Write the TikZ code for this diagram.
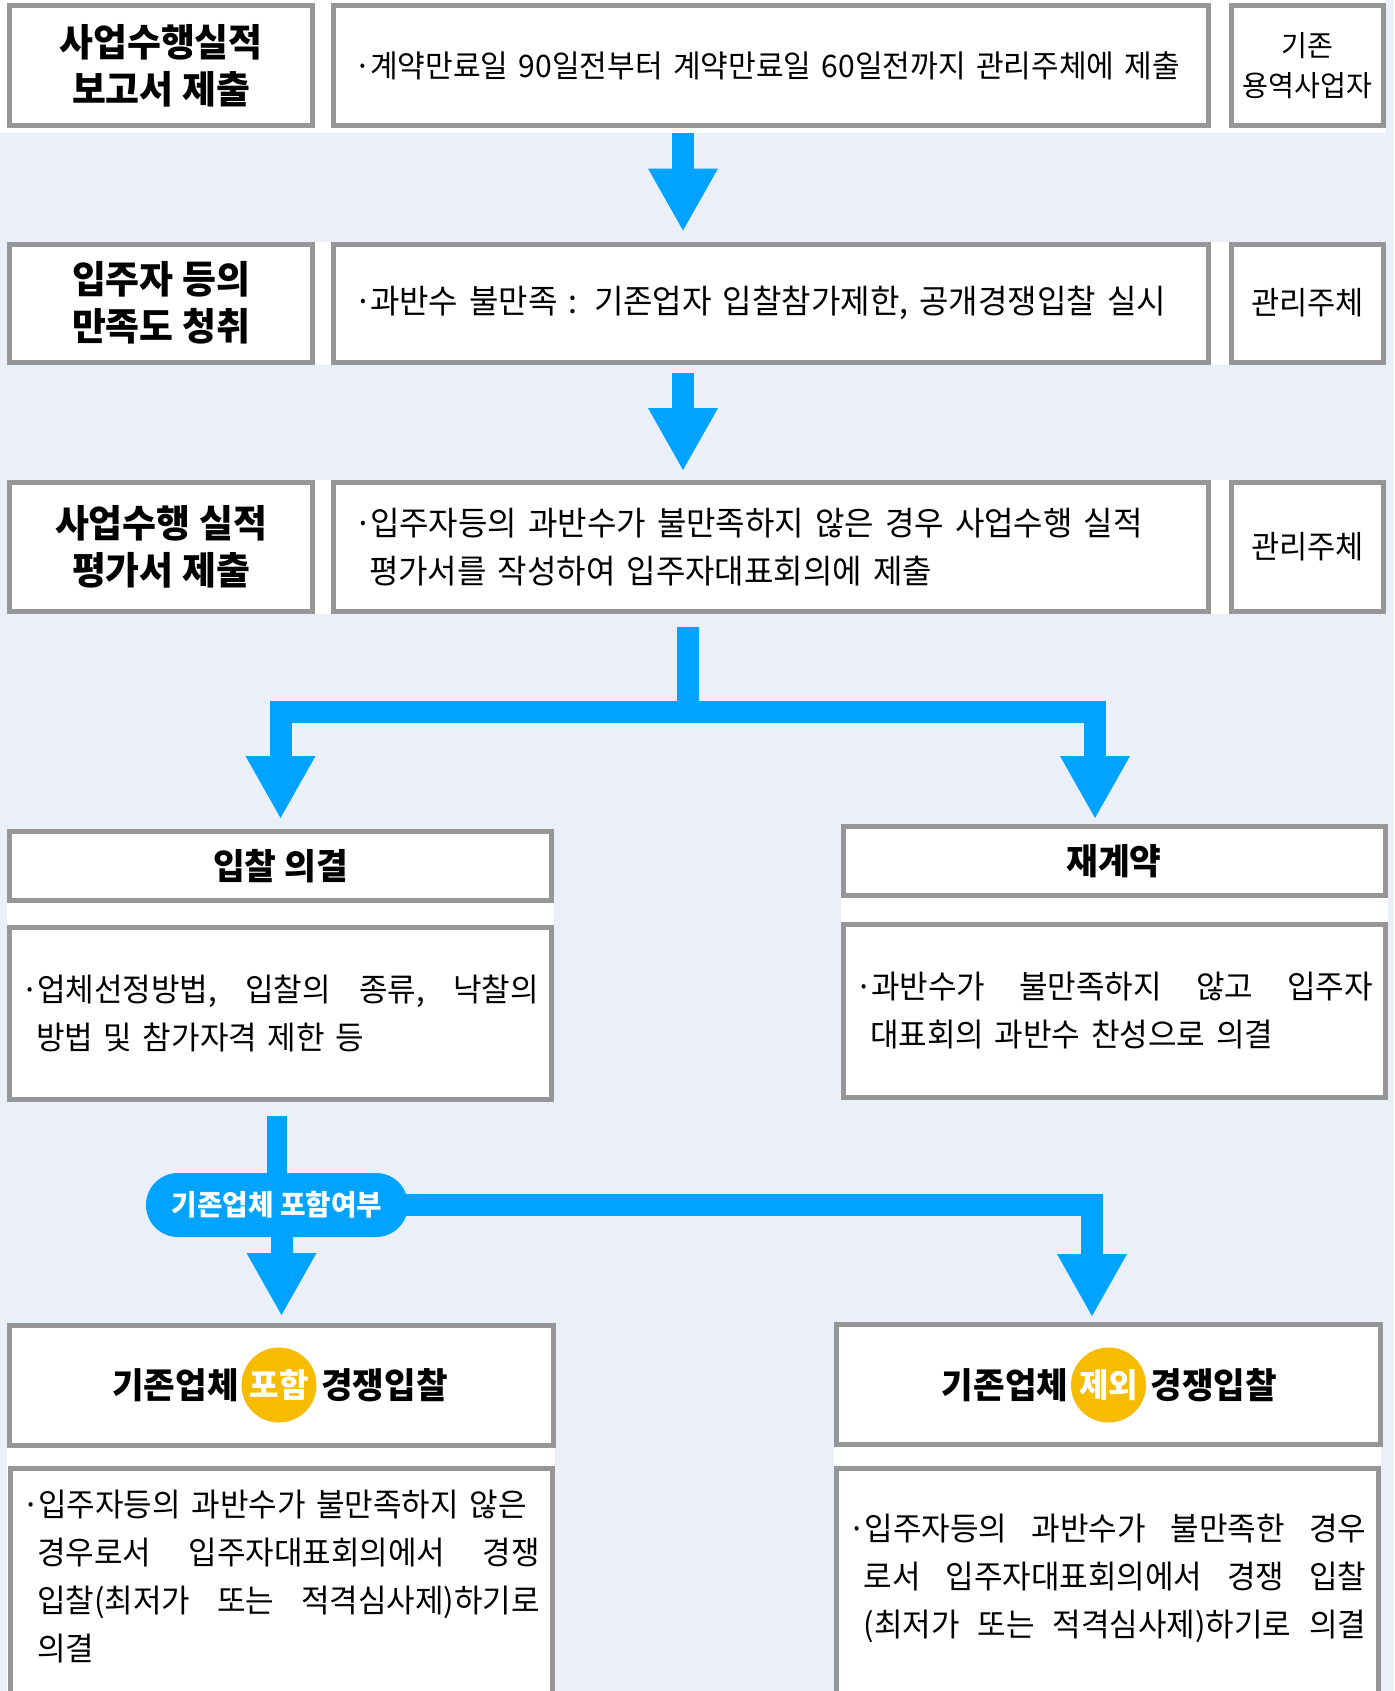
\documentclass[tikz,border=0pt]{standalone}
\usepackage{fontspec}
\setmainfont{Noto Sans CJK KR}[FakeStretch=0.97]
\usetikzlibrary{arrows.meta, positioning, backgrounds}
\definecolor{pagebg}{HTML}{EAEFF8}
\definecolor{boxgray}{HTML}{969696}
\definecolor{flowblue}{HTML}{00A3FF}
\definecolor{markgold}{HTML}{F7BB00}
\newcommand{\fsz}[2]{\fontsize{#1}{#2}\selectfont}
\newcommand{\itembul}{\makebox[8pt][l]{·}}
\newcommand{\itemind}{\hspace*{7.5pt}}

\begin{document}
\begin{tikzpicture}[
  x=0.5pt, y=-0.5pt,
  box/.style={rectangle, draw=boxgray, fill=white, line width=2.5pt, inner sep=0pt, align=center},
  ttl/.style={box, minimum width=151.5pt, font=\fsz{19pt}{23.5pt}\bfseries},
  desc/.style={box, text width=417pt, inner xsep=10.25pt, align=left, font=\fsz{16.5pt}{24pt}},
  who/.style={box, minimum width=76pt, font=\fsz{15.8pt}{20pt}},
  headbox/.style={box, minimum width=271pt, minimum height=34.5pt, font=\fsz{17.8pt}{20pt}\bfseries},
  notebox/.style={box, text width=259pt, inner xsep=6pt, align=left, font=\fsz{16pt}{24pt}},
  pickbox/.style={box, minimum width=272pt, minimum height=60pt},
  picktext/.style={inner sep=0pt, font=\fsz{17.7pt}{20pt}\bfseries},
  hlcirc/.style={circle, fill=markgold, minimum size=37.5pt, inner sep=0pt, text=white, font=\fsz{16.5pt}{18pt}\bfseries},
  pill/.style={rectangle, rounded corners=16pt, fill=flowblue, minimum width=131pt, minimum height=32pt, inner sep=0pt, text=white, font=\fsz{14.3pt}{15pt}\bfseries},
  flowline/.style={draw=flowblue, line width=11pt},
  arr/.style={flowline, -{Triangle[length=31pt, width=35pt, line width=0pt]}},
]
\useasboundingbox (0,0) rectangle (1394,1691);

% Row 1
\node[ttl, minimum height=60pt] (lt1) at (161,65.5) {사업수행실적\\보고서 제출};
\node[desc, minimum height=60pt, font=\fsz{15.5pt}{24pt}] (md1) at (771,65.5) {\itembul 계약만료일 90일전부터 계약만료일 60일전까지 관리주체에 제출};
\node[who, minimum height=60pt, font=\fsz{14.5pt}{20pt}] (rt1) at (1307.5,65.5) {기존\\용역사업자};

% Row 2
\node[ttl, minimum height=59pt] (lt2) at (161,303) {입주자 등의\\만족도 청취};
\node[desc, minimum height=59pt] (md2) at (771,303) {\itembul 과반수 불만족 : 기존업자 입찰참가제한, 공개경쟁입찰 실시};
\node[who, minimum height=59pt] (rt2) at (1307.5,303) {관리주체};

% Row 3
\node[ttl, minimum height=64.5pt] (lt3) at (161,547) {사업수행 실적\\평가서 제출};
\node[desc, minimum height=64.5pt] (md3) at (771,547) {\itembul 입주자등의 과반수가 불만족하지 않은 경우 사업수행 실적\\\itemind 평가서를 작성하여 입주자대표회의에 제출};
\node[who, minimum height=64.5pt] (rt3) at (1307.5,547) {관리주체};

% Bid / renewal
\node[headbox] (bidv) at (280.5,866) {입찰 의결};
\node[headbox] (renew) at (1114,861) {재계약};
\node[notebox, minimum height=86pt] (bidn) at (280,1013.5) {\itembul 업체선정방법,\hfill 입찰의\hfill 종류,\hfill 낙찰의\\\itemind 방법 및 참가자격 제한 등};
\node[notebox, minimum height=86.5pt] (renewn) at (1114,1011) {\itembul 과반수가\hfill 불만족하지\hfill 않고\hfill 입주자\\\itemind 대표회의 과반수 찬성으로 의결};

% Decision
\node[pill] (incq) at (277,1205) {기존업체 포함여부};

% Included
\node[pickbox] (incl) at (281.5,1385.5) {};
\node[hlcirc] (inclm) at (279,1385) {포함};
\node[picktext, left=1pt of inclm] (incla) {기존업체};
\node[picktext, right=2pt of inclm] (inclb) {경쟁입찰};
\node[notebox, anchor=north, inner ysep=10.75pt, text depth=150pt] (incln) at (281,1466) {\itembul 입주자등의 과반수가 불만족하지 않은\\\itemind 경우로서\hfill 입주자대표회의에서\hfill 경쟁\\\itemind 입찰(최저가\hfill 또는\hfill 적격심사제)하기로\\\itemind 의결};

% Excluded
\node[pickbox] (excl) at (1108,1384.5) {};
\node[hlcirc] (exclm) at (1108.5,1385) {제외};
\node[picktext, left=1pt of exclm] (excla) {기존업체};
\node[picktext, right=2pt of exclm] (exclb) {경쟁입찰};
\node[notebox, anchor=north, inner ysep=22.75pt, text depth=150pt] (excln) at (1107.5,1466) {\itembul 입주자등의\hfill 과반수가\hfill 불만족한\hfill 경우\\\itemind 로서\hfill 입주자대표회의에서\hfill 경쟁\hfill 입찰\\\itemind (최저가\hfill 또는\hfill 적격심사제)하기로\hfill 의결};

\coordinate (ax) at (683,0);
\coordinate (fork1) at (688,711.5);
\coordinate (tip1r) at (1095,818);
\coordinate (tip2r) at (1092,1316);

\begin{scope}[on background layer]
  \fill[pagebg] (0,0) rectangle (1394,1691);
  % white panels
  \fill[white] (0,0) rectangle ([yshift=-2.5pt]rt1.south east);
  \fill[white] (lt2.north west) rectangle (rt2.south east);
  \fill[white] (lt3.north west) rectangle (rt3.south east);
  \fill[white] (bidv.north west) rectangle (bidn.south east);
  \fill[white] (renew.north west) rectangle (renewn.south east);
  \fill[white] (incl.north west) rectangle (incln.south east);
  \fill[white] (excl.north west) rectangle (excln.south east);
  % Arrows
  \draw[arr] ([yshift=-2.5pt]md1.south -| ax) -- ([yshift=5.5pt]md2.north -| ax);
  \draw[arr] ([yshift=-4pt]md2.south -| ax) -- ([yshift=5pt]md3.north -| ax);
  \draw[arr] ([yshift=-6.5pt]md3.south -| fork1) -- (fork1) -| ([yshift=5.5pt]bidv.north);
  \draw[arr] ([yshift=-6.5pt]md3.south -| fork1) -- (fork1) -| (tip1r);
  \draw[flowline, line width=10pt] ([yshift=-7pt]bidn.south -| incq.north) -- (incq.center);
  \draw[arr] (incq.center -| incl.north) -- ([yshift=4pt]incl.north);
  \draw[arr] (incq.center) -| (tip2r);
\end{scope}

\end{tikzpicture}
\end{document}
